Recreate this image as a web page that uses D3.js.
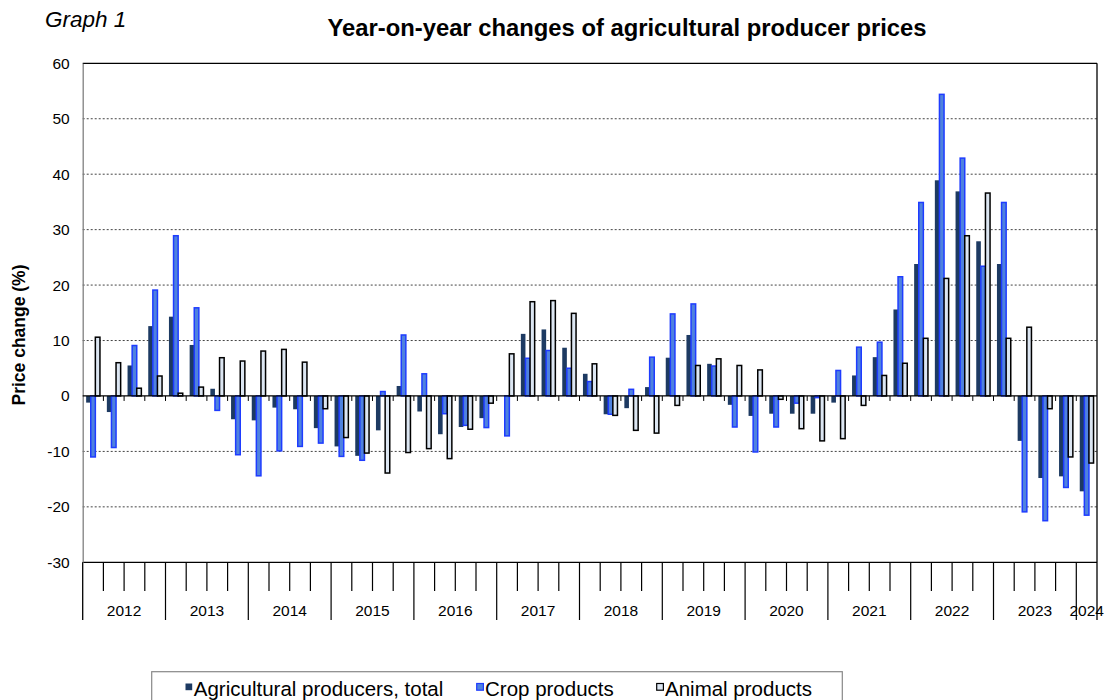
<!DOCTYPE html>
<html><head><meta charset="utf-8">
<script src="https://cdn.jsdelivr.net/npm/d3@7"></script>
<style>body{margin:0;background:#fff;} svg{display:block;font-family:"Liberation Sans",Arial,sans-serif;}</style>
</head><body>
<svg id="chart" width="1108" height="700"></svg>
<script>
const years = ["2012","2013","2014","2015","2016","2017","2018","2019","2020","2021","2022","2023","2024"];
const quartersPerYear = [4,4,4,4,4,4,4,4,4,4,4,4,1];
const seriesNames = ["Agricultural producers, total","Crop products","Animal products"];
const totalValues = [
  -1.2, -2.9, 5.5, 12.6,
  14.3, 9.2, 1.3, -4.2,
  -4.4, -2.1, -2.4, -5.8,
  -9.1, -10.8, -6.2, 1.8,
  -2.8, -6.9, -5.6, -4.0,
  0.0, 11.2, 12.0, 8.7,
  4.0, -3.3, -2.2, 1.6,
  6.9, 11.0, 5.8, -1.6,
  -3.6, -3.2, -3.2, -3.2,
  -1.2, 3.7, 7.0, 15.6,
  23.8, 38.9, 36.9, 27.9,
  23.8, -8.1, -14.8, -14.5,
  -17.2];
const cropValues = [
  -11.0, -9.3, 9.1, 19.1,
  28.9, 15.9, -2.6, -10.6,
  -14.4, -9.9, -9.1, -8.5,
  -10.9, -11.6, 0.8, 11.0,
  4.0, -3.2, -5.3, -5.7,
  -7.2, 6.8, 8.2, 5.0,
  2.6, -3.3, 1.2, 7.0,
  14.8, 16.6, 5.4, -5.6,
  -10.1, -5.6, -1.3, -0.3,
  4.6, 8.8, 9.7, 21.5,
  34.9, 54.4, 42.9, 23.4,
  34.9, -20.9, -22.5, -16.5,
  -21.5];
const animalValues = [
  10.6, 6.0, 1.4, 3.6,
  0.5, 1.6, 6.9, 6.3,
  8.1, 8.4, 6.1, -2.3,
  -7.5, -10.3, -13.9, -10.2,
  -9.5, -11.3, -6.0, -1.3,
  7.6, 17.0, 17.2, 14.9,
  5.8, -3.5, -6.2, -6.7,
  -1.7, 5.5, 6.7, 5.5,
  4.7, -0.6, -5.9, -8.1,
  -7.7, -1.7, 3.7, 5.9,
  10.4, 21.2, 28.9, 36.6,
  10.4, 12.4, -2.3, -11.0,
  -12.1];
const yTicks = [-30,-20,-10,0,10,20,30,40,50,60];

// build period list
const periods = [];
years.forEach((y,i)=>{ for(let q=1;q<=quartersPerYear[i];q++) periods.push({year:y,q:q,id:y+" Q"+q}); });

const svg = d3.select("#chart");
const L = 82.7, R = 1097, T = 63.3, B = 562.3;
const x = d3.scaleBand().domain(periods.map(p=>p.id)).range([L,R]).paddingInner(0).paddingOuter(0);
const xs = d3.scaleBand().domain([0,1,2]).range([0,x.bandwidth()]).paddingInner(0).paddingOuter(0.75);
const y = d3.scaleLinear().domain([-30,60]).range([B,T]);

// gridlines
svg.append("g").selectAll("line").data(yTicks.filter(v=>v!==0 && v!==-30 && v!==60)).join("line")
  .attr("x1",L).attr("x2",R).attr("y1",d=>y(d)).attr("y2",d=>y(d))
  .attr("stroke","#444").attr("stroke-width",1).attr("stroke-dasharray","2,2");
// top, bottom lines
svg.append("line").attr("x1",L).attr("x2",R).attr("y1",y(60)).attr("y2",y(60)).attr("stroke","#000").attr("stroke-width",1.2);
svg.append("line").attr("x1",L).attr("x2",R).attr("y1",y(-30)).attr("y2",y(-30)).attr("stroke","#000").attr("stroke-width",1.2);

// y axis
const yAxis = d3.axisLeft(y).tickValues(yTicks).tickSize(0).tickPadding(13).tickFormat(d=>String(d));
const yg = svg.append("g").attr("transform",`translate(${L},0)`).call(yAxis);
yg.select(".domain").attr("stroke","#808080").attr("stroke-width",1.3);
yg.selectAll("text").attr("font-size","15.5px").attr("fill","#000").attr("font-family","Liberation Sans, Arial, sans-serif");

// bars
const series = [
  {vals: totalValues, fill:"#1d3a62", stroke:"none", sw:0},
  {vals: cropValues, fill:"#4f82de", stroke:"#1e3cff", sw:1.5},
  {vals: animalValues, fill:"#dce6f2", stroke:"#000", sw:1.5}
];
series.forEach((s,si)=>{
  svg.append("g").selectAll("rect").data(periods.map((p,i)=>({id:p.id,v:s.vals[i]}))).join("rect")
    .attr("x",d=>x(d.id)+xs(si))
    .attr("width",xs.bandwidth())
    .attr("y",d=>y(Math.max(0,d.v)))
    .attr("height",d=>Math.abs(y(d.v)-y(0)))
    .attr("fill",s.fill).attr("stroke",s.stroke).attr("stroke-width",s.sw);
});

// zero line with small ticks
svg.append("line").attr("x1",L).attr("x2",R).attr("y1",y(0)).attr("y2",y(0)).attr("stroke","#000").attr("stroke-width",1.3);
svg.append("g").selectAll("line").data(periods.slice(1)).join("line")
  .attr("x1",d=>x(d.id)).attr("x2",d=>x(d.id)).attr("y1",y(0)).attr("y2",y(0)+5)
  .attr("stroke","#000").attr("stroke-width",1);

// right border
svg.append("line").attr("x1",R).attr("x2",R).attr("y1",T).attr("y2",620).attr("stroke","#000").attr("stroke-width",1.3);
// left extension
svg.append("line").attr("x1",L).attr("x2",L).attr("y1",B).attr("y2",620).attr("stroke","#000").attr("stroke-width",1.3);

// category ticks bottom
svg.append("g").selectAll("line").data(periods.slice(1)).join("line")
  .attr("x1",d=>x(d.id)).attr("x2",d=>x(d.id))
  .attr("y1",B).attr("y2",d=>d.q===1?620:591)
  .attr("stroke","#000").attr("stroke-width",1.2);

// year labels
svg.append("g").selectAll("text").data(years).join("text")
  .attr("x",(d,i)=>{ const ps=periods.filter(p=>p.year===d); return (x(ps[0].id)+x(ps[ps.length-1].id)+x.bandwidth())/2; })
  .attr("y",615.5).attr("text-anchor","middle").attr("font-size","15.5px").attr("fill","#000").text(d=>d);

// titles
svg.append("text").attr("x",45).attr("y",27).attr("font-size","22.5px").attr("font-style","italic").text("Graph 1");
svg.append("text").attr("x",627).attr("y",36).attr("text-anchor","middle").attr("font-size","23.8px").attr("font-weight","bold")
  .text("Year-on-year changes of agricultural producer prices");
svg.append("text").attr("transform","translate(25,335) rotate(-90)").attr("text-anchor","middle")
  .attr("font-size","17.5px").attr("font-weight","bold").text("Price change (%)");

// legend
svg.append("rect").attr("x",151.7).attr("y",671.7).attr("width",690.6).attr("height",40)
  .attr("fill","#fff").attr("stroke","#888").attr("stroke-width",1.2);
const legX = [185.5, 476.7, 656.7];
const lg = svg.append("g").selectAll("g").data(seriesNames).join("g")
  .attr("transform",(d,i)=>`translate(${legX[i]},0)`);
lg.append("rect").attr("x",0).attr("y",683.5).attr("width",6.7).attr("height",6.7)
  .attr("fill",(d,i)=>series[i].fill).attr("stroke",(d,i)=>i===0?"none":series[i].stroke).attr("stroke-width",1.2);
lg.append("text").attr("x",8.3).attr("y",696).attr("font-size","20.5px").attr("fill","#000").text(d=>d);
</script>
</body></html>
